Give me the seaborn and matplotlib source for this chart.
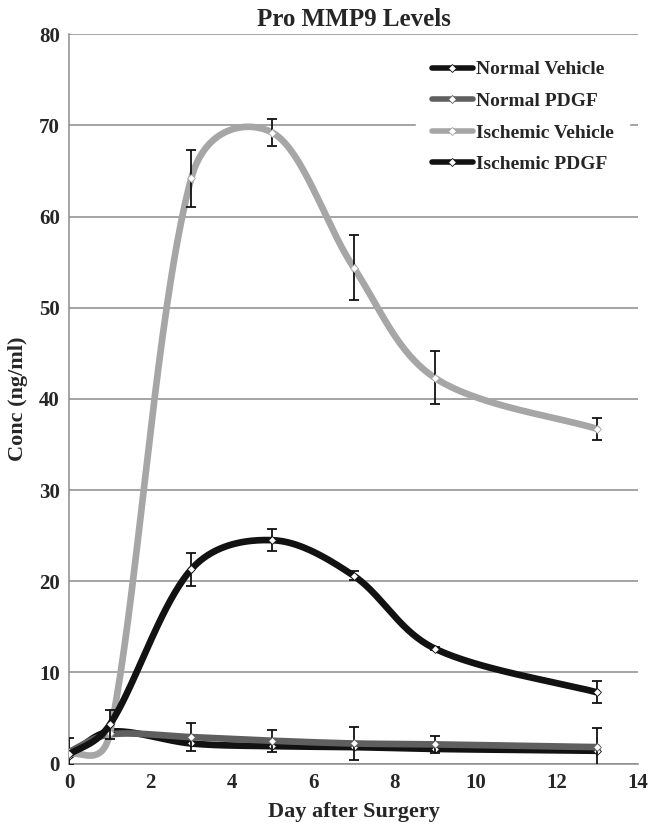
import numpy as np
import pandas as pd
import matplotlib
matplotlib.use("Agg")
import matplotlib.pyplot as plt
from matplotlib.lines import Line2D
import seaborn as sns

days = [0, 1, 3, 5, 7, 9, 13]
series_names = ["Normal Vehicle", "Normal PDGF", "Ischemic Vehicle", "Ischemic PDGF"]
normal_vehicle = [0.8, 3.5, 2.2, 1.9, 1.8, 1.6, 1.4]
normal_vehicle_err = [0.0, 0.0, 0.0, 0.0, 0.0, 0.0, 0.0]
normal_pdgf = [1.3, 3.2, 2.9, 2.5, 2.2, 2.1, 1.8]
normal_pdgf_err = [1.5, 0.0, 1.5, 1.2, 1.8, 0.9, 2.1]
ischemic_vehicle = [1.0, 3.4, 64.2, 69.2, 54.4, 42.3, 36.7]
ischemic_vehicle_err = [0.0, 0.0, 3.1, 1.5, 3.6, 2.9, 1.2]
ischemic_pdgf = [1.0, 4.3, 21.3, 24.5, 20.6, 12.6, 7.8]
ischemic_pdgf_err = [0.0, 1.6, 1.8, 1.2, 0.5, 0.2, 1.2]
colors = ["#121212", "#5f5f5f", "#a6a6a6", "#121212"]

values = [normal_vehicle, normal_pdgf, ischemic_vehicle, ischemic_pdgf]
errors = [normal_vehicle_err, normal_pdgf_err, ischemic_vehicle_err, ischemic_pdgf_err]


def smooth(xs, ys, n=40, px=40.6, py=9.12):
    # Excel-like smoothed line: Bezier through the points,
    # Catmull-Rom tangents softened by chord-length ratio
    p = np.column_stack([np.array(xs) * px, np.array(ys) * py]).astype(float)
    m = len(p)
    tan_in, tan_out = [], []
    for i in range(m):
        a = p[max(i - 1, 0)]
        b = p[min(i + 1, m - 1)]
        d = b - a
        l0 = np.linalg.norm(p[i] - a)
        l1 = np.linalg.norm(b - p[i])
        tot = l0 + l1 if l0 + l1 > 0 else 1
        tan_in.append(d / 6 * np.sqrt(2 * l0 / tot))
        tan_out.append(d / 6 * np.sqrt(2 * l1 / tot))
    t = np.linspace(0, 1, n)[:, None]
    out = []
    for i in range(m - 1):
        p1, p2 = p[i], p[i + 1]
        c1 = p1 + tan_out[i]
        c2 = p2 - tan_in[i + 1]
        seg = ((1 - t) ** 3) * p1 + 3 * ((1 - t) ** 2) * t * c1 + 3 * (1 - t) * t ** 2 * c2 + t ** 3 * p2
        out.append(seg)
    out = np.vstack(out)
    return out[:, 0] / px, out[:, 1] / py


sns.set_style("white")
plt.rcParams['font.family'] = ['Liberation Serif', 'DejaVu Serif']
plt.rcParams['font.weight'] = 'bold'

fig = plt.figure(figsize=(6.49, 8.25), dpi=100)
ax = fig.add_axes([0.107, 0.0745, 0.876, 0.884])

for k, name in enumerate(series_names):
    sx, sy = smooth(days, values[k])
    curve = pd.DataFrame({"day": sx, "conc": sy})
    z = 2 + k * 3
    sns.lineplot(data=curve, x="day", y="conc", ax=ax, color=colors[k], lw=4.8,
                 sort=False, estimator=None, zorder=z, solid_capstyle="round")
    err = np.array(errors[k])
    if err.max() > 0:
        ax.errorbar(days, values[k], yerr=err, fmt="none", ecolor="#111111",
                    elinewidth=1.3, capsize=3.5, capthick=1.3, zorder=z + 1)
    pts = pd.DataFrame({"day": days, "conc": values[k]})
    sns.scatterplot(data=pts, x="day", y="conc", ax=ax, marker="D", s=16,
                    color="white", edgecolor=colors[k], linewidth=0.6, zorder=z + 2)

ax.set_xlim(0, 14)
ax.set_ylim(0, 80)
ax.set_xticks(range(0, 15, 2))
ax.set_yticks(range(0, 81, 10))
ax.yaxis.grid(True, color="#8c8c8c", lw=1.1)
ax.set_axisbelow(True)
for s in ["top", "right"]:
    ax.spines[s].set_visible(False)
for s in ["left", "bottom"]:
    ax.spines[s].set_color("#8c8c8c")
    ax.spines[s].set_linewidth(1.1)
ax.tick_params(axis="both", direction="out", length=5, width=1.1, color="#8c8c8c",
               labelsize=15, pad=2)
for lab in ax.get_xticklabels() + ax.get_yticklabels():
    lab.set_fontweight("bold")

ax.set_xlabel("Day after Surgery", fontsize=16, fontweight="bold", labelpad=6)
ax.set_ylabel("Conc (ng/ml)", fontsize=16, fontweight="bold", labelpad=8)
ax.set_title("Pro MMP9 Levels", fontsize=18, fontweight="bold", pad=6)

handles = [Line2D([0], [0], color=c, lw=4, marker="D", markersize=4.5,
                  markerfacecolor="white", markeredgecolor=c, markeredgewidth=0.6)
           for c in colors]
leg = ax.legend(handles, series_names, loc="upper left", bbox_to_anchor=(0.61, 0.985),
                frameon=True, fontsize=14, handlelength=2.1, handletextpad=0.15,
                labelspacing=0.72, borderpad=0.8, borderaxespad=0)
leg.get_frame().set_facecolor("white")
leg.get_frame().set_edgecolor("white")
leg.get_frame().set_alpha(1.0)
leg.set_zorder(20)
for t in leg.get_texts():
    t.set_fontweight("bold")

fig.savefig("out.png", dpi=100)
